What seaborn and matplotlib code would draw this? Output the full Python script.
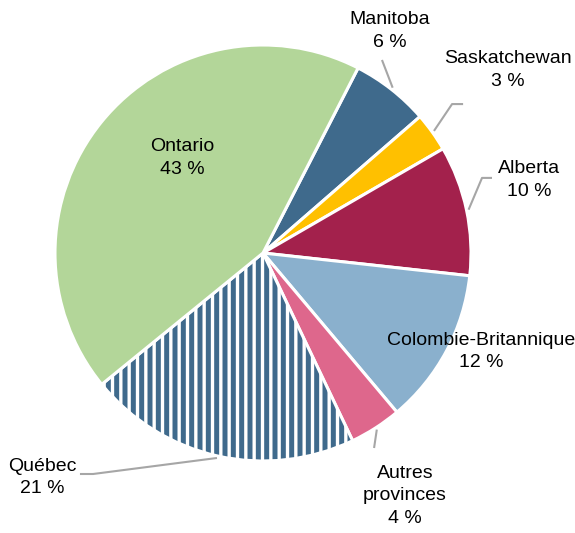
import numpy as np
import matplotlib
matplotlib.use("Agg")
import matplotlib.pyplot as plt
import seaborn as sns

# data (clockwise from Manitoba)
provinces = ["Manitoba", "Saskatchewan", "Alberta", "Colombie-Britannique",
             "Autres\nprovinces", "Québec", "Ontario"]
shares = [6, 3, 10, 12, 4, 21, 43]
colors = ["#3F6A8C", "#FFC000", "#A3214C", "#8AB0CD", "#DE678C", "#3F6A8C", "#B3D699"]

sns.set_style("white")
plt.rcParams["font.family"] = ["Liberation Sans", "DejaVu Sans"]
plt.rcParams["hatch.linewidth"] = 2.4

fig = plt.figure(figsize=(5.75, 5.33), dpi=100)
ax = fig.add_axes([0, 0, 1, 1])

wedges, _ = ax.pie(shares, colors=sns.color_palette(colors), startangle=62.8,
                   counterclock=False,
                   wedgeprops=dict(edgecolor="white", linewidth=2.2))
wedges[5].set_hatch("||")

# pixel-ish layout: radius 1 = 208 px, centre at (263, 253)
ax.set_xlim(-263 / 208, (575 - 263) / 208)
ax.set_ylim(-(533 - 253) / 208, 253 / 208)
ax.set_aspect("auto")
ax.axis("off")


def mid_point(w, r=1.01):
    a = np.deg2rad((w.theta1 + w.theta2) / 2)
    return r * np.cos(a), r * np.sin(a)


line_kw = dict(color="#A6A6A6", lw=1.5, solid_capstyle="butt")
# leader lines: wedge point -> elbow(s)
leaders = {
    0: [(0.572, 0.928)],
    1: [(0.909, 0.716), (0.962, 0.716)],
    2: [(1.053, 0.361), (1.101, 0.361)],
    4: [(0.534, -0.9375)],
    5: [(-0.817, -1.0625), (-0.88, -1.0625)],
}
for i, pts in leaders.items():
    x0, y0 = mid_point(wedges[i])
    xs = [x0] + [p[0] for p in pts]
    ys = [y0] + [p[1] for p in pts]
    ax.plot(xs, ys, **line_kw)

label_pos = [(0.611, 1.067), (1.178, 0.88), (1.279, 0.351), (1.048, -0.474),
             (0.683, -1.168), (-1.0625, -1.079), (-0.389, 0.457)]
for name, val, (x, y) in zip(provinces, shares, label_pos):
    ax.text(x, y, f"{name}\n{val} %", ha="center", va="center",
            multialignment="center", fontsize=14, color="#000000",
            linespacing=1.4)

fig.savefig("out.png", dpi=100)
